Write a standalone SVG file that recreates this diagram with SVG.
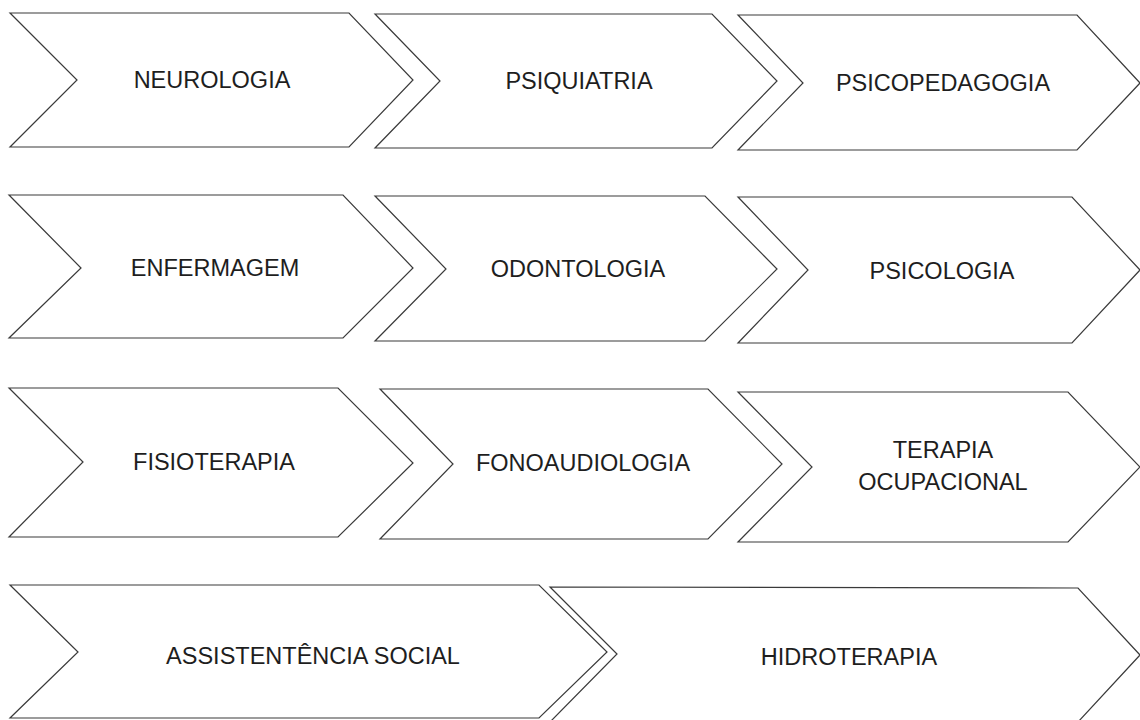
<svg xmlns="http://www.w3.org/2000/svg" width="1140" height="720" viewBox="0 0 1140 720">
<style>
.chev{fill:#ffffff;stroke:#3a3a3a;stroke-width:1.2;stroke-linejoin:miter}
.lbl{font-family:"Liberation Sans",Arial,sans-serif;font-size:23.5px;fill:#1e1e1e;text-anchor:middle;dominant-baseline:central}
</style>
<rect width="1140" height="720" fill="#ffffff"/>
<g id="connectors"></g>
<g id="n-neurologia">
<polygon class="chev" points="10,13 349,13 413,80 349,147 10,147 77,80"/>
<text class="lbl" x="212" y="80">NEUROLOGIA</text>
</g>
<g id="n-psiquiatria">
<polygon class="chev" points="375,14 712,14 777,81 712,148 375,148 440,81"/>
<text class="lbl" x="579" y="81">PSIQUIATRIA</text>
</g>
<g id="n-psicopedagogia">
<polygon class="chev" points="738,15 1077,15 1140,83 1077,150 738,150 803,83"/>
<text class="lbl" x="943" y="83">PSICOPEDAGOGIA</text>
</g>
<g id="n-enfermagem">
<polygon class="chev" points="9,195 343,195 413,268 343,338 9,338 81,268"/>
<text class="lbl" x="215" y="268">ENFERMAGEM</text>
</g>
<g id="n-odontologia">
<polygon class="chev" points="375,196 705,196 777,269 705,341 375,341 446,269"/>
<text class="lbl" x="578" y="269">ODONTOLOGIA</text>
</g>
<g id="n-psicologia">
<polygon class="chev" points="738,197 1072,197 1140,270 1072,343 738,343 808,270"/>
<text class="lbl" x="942" y="271">PSICOLOGIA</text>
</g>
<g id="n-fisioterapia">
<polygon class="chev" points="9,388 338,388 413,463 338,537 9,537 83,462"/>
<text class="lbl" x="214" y="462">FISIOTERAPIA</text>
</g>
<g id="n-fonoaudiologia">
<polygon class="chev" points="380,389 708,389 782,464 708,539 380,539 453,464"/>
<text class="lbl" x="583" y="463">FONOAUDIOLOGIA</text>
</g>
<g id="n-terapia-ocupacional">
<polygon class="chev" points="738,392 1068,392 1140,467 1068,542 738,542 812,467"/>
<text class="lbl" x="943" y="450">TERAPIA</text>
<text class="lbl" x="943" y="482">OCUPACIONAL</text>
</g>
<g id="n-assistencia-social">
<polygon class="chev" points="10,585 539,585 607,652 539,718 10,718 78,652"/>
<text class="lbl" x="313" y="656">ASSISTENTÊNCIA SOCIAL</text>
</g>
<g id="n-hidroterapia">
<polygon class="chev" points="550,587 1078,588 1140,655 1078,722 550,722 617,654"/>
<text class="lbl" x="849" y="657">HIDROTERAPIA</text>
</g>
</svg>
